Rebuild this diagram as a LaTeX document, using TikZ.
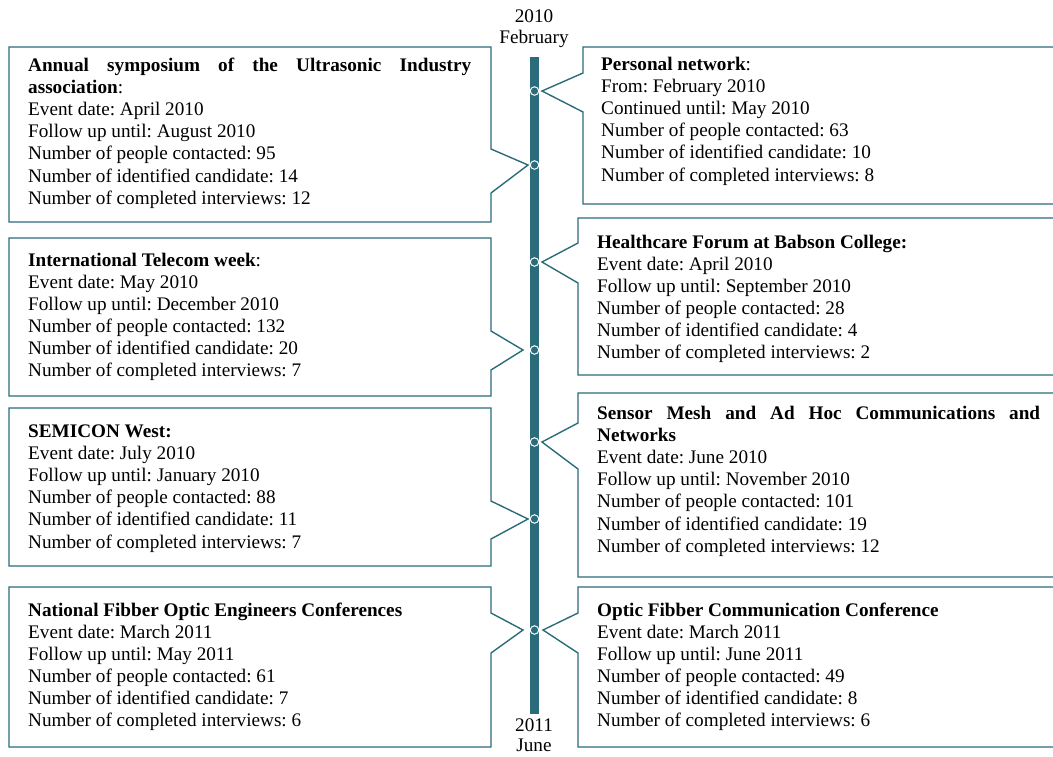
\documentclass[tikz,border=0pt]{standalone}
\usepackage{fontspec}
\setmainfont{Liberation Serif}
\hyphenpenalty=10000
\exhyphenpenalty=10000
\tolerance=10000
\definecolor{teal}{RGB}{42,108,122}
\tikzset{
  callout/.style={draw=teal, line width=1.4pt, line join=miter},
  txt/.style={anchor=base west, inner sep=0pt, text width=443pt, align=justify,
    font=\fontsize{19.2}{22.1}\selectfont\frenchspacing},
  lbl/.style={anchor=base, inner sep=0pt, font=\fontsize{19.2}{22.1}\selectfont},
  dot/.style={circle, minimum size=8.5pt, inner sep=0pt, fill=teal, draw=white, line width=1pt},
}
% left callout: top, bottom, upper wedge y, tip x, tip y, lower wedge y
\newcommand\lcallout[6]{%
  \draw[callout] (9,#1) -- (491,#1) -- (491,#3) -- (#4,#5) -- (491,#6) -- (491,#2) -- (9,#2) -- cycle;}
% right callout: left x, top, bottom, upper wedge y, tip x, tip y, lower wedge y
\newcommand\rcallout[7]{%
  \draw[callout] (#1,#2) -- (1070,#2) -- (1070,#3) -- (#1,#3) -- (#1,#7) -- (#5,#6) -- (#1,#4) -- cycle;}
\begin{document}
\frenchspacing
\begin{tikzpicture}[x=1pt,y=-1pt]
\useasboundingbox (0,0) rectangle (1053,756);
\clip (0,0) rectangle (1053,756);

% timeline bar and its end labels
\fill[teal] (530,57) rectangle (539,714);
\node[lbl] (y1) at (534,22) {2010};
\node[lbl] (m1) at (534,43) {February};
\node[lbl] (y2) at (534,731) {2011};
\node[lbl] (m2) at (534,751) {June};

% callout frames
\lcallout{47}{222}{149}{528}{165}{193}
\lcallout{238}{396}{331}{523}{350}{370}
\lcallout{408}{566}{501}{528}{519}{539}
\lcallout{587}{747}{613}{523}{630}{653}
\rcallout{583}{47}{204}{73}{542}{91}{112}
\rcallout{578}{218}{375}{243}{542}{262}{283}
\rcallout{578}{393}{577}{423}{542}{442}{469}
\rcallout{578}{587}{747}{613}{543}{630}{653}

% event markers on the bar
\node[dot] (e1) at (534.5,91) {};
\node[dot] (e2) at (534.5,165) {};
\node[dot] (e3) at (534.5,262) {};
\node[dot] (e4) at (534.5,350) {};
\node[dot] (e5) at (534.5,442) {};
\node[dot] (e6) at (534.5,519) {};
\node[dot] (e7) at (534.5,630) {};

% left column
\node[txt] (t1) at (28,71.5) {\textbf{Annual symposium of the Ultrasonic Industry association}:\\
Event date: April 2010\\
Follow up until: August 2010\\
Number of people contacted: 95\\
Number of identified candidate: 14\\
Number of completed interviews: 12};
\node[txt] (t2) at (28,266) {\textbf{International Telecom week}:\\
Event date: May 2010\\
Follow up until: December 2010\\
Number of people contacted: 132\\
Number of identified candidate: 20\\
Number of completed interviews: 7};
\node[txt] (t3) at (28,437.5) {\textbf{SEMICON West:}\\
Event date: July 2010\\
Follow up until: January 2010\\
Number of people contacted: 88\\
Number of identified candidate: 11\\
Number of completed interviews: 7};
\node[txt] (t4) at (28,616) {\textbf{National Fibber Optic Engineers Conferences}\\
Event date: March 2011\\
Follow up until: May 2011\\
Number of people contacted: 61\\
Number of identified candidate: 7\\
Number of completed interviews: 6};

% right column
\node[txt] (t5) at (601,70.5) {\textbf{Personal network}:\\
From: February 2010\\
Continued until: May 2010\\
Number of people contacted: 63\\
Number of identified candidate: 10\\
Number of completed interviews: 8};
\node[txt] (t6) at (597,248) {\textbf{Healthcare Forum at Babson College:}\\
Event date: April 2010\\
Follow up until: September 2010\\
Number of people contacted: 28\\
Number of identified candidate: 4\\
Number of completed interviews: 2};
\node[txt] (t7) at (597,419.5) {\textbf{Sensor Mesh and Ad Hoc Communications and Networks}\\
Event date: June 2010\\
Follow up until: November 2010\\
Number of people contacted: 101\\
Number of identified candidate: 19\\
Number of completed interviews: 12};
\node[txt] (t8) at (597,616) {\textbf{Optic Fibber Communication Conference}\\
Event date: March 2011\\
Follow up until: June 2011\\
Number of people contacted: 49\\
Number of identified candidate: 8\\
Number of completed interviews: 6};
\end{tikzpicture}
\end{document}
